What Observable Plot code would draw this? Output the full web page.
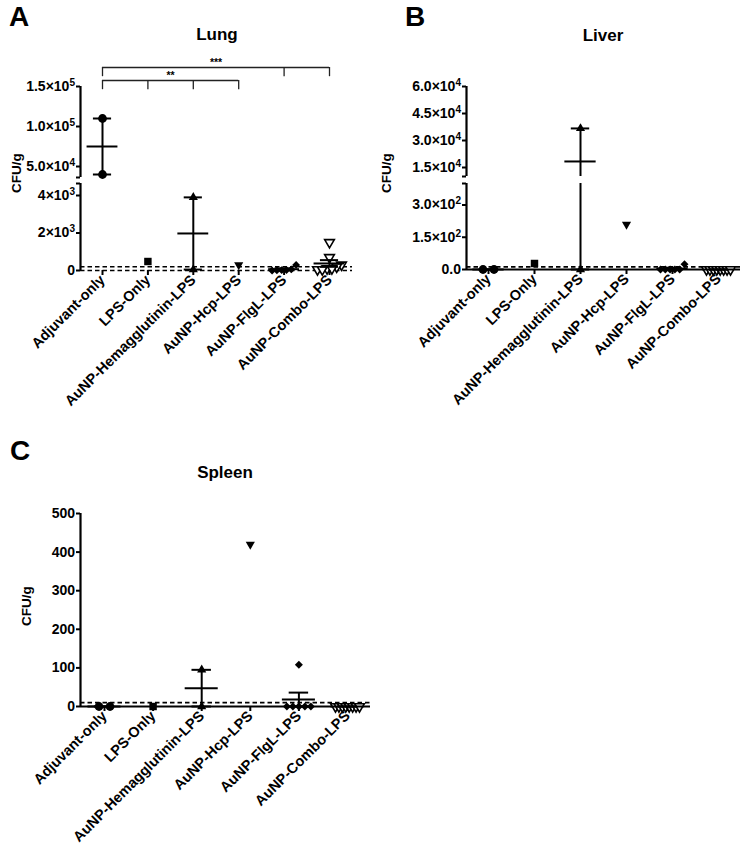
<!DOCTYPE html>
<html><head><meta charset="utf-8">
<script src="https://cdn.jsdelivr.net/npm/d3@7"></script>
<script src="https://cdn.jsdelivr.net/npm/@observablehq/plot@0.6"></script>
<style>
body{margin:0;background:#fff;}
#fig{position:relative;width:742px;height:847px;overflow:hidden;background:#fff;}
#fig svg{position:absolute;}
</style></head><body><div id="fig"></div>
<script>
// ---------------- data ----------------
const groups = ["Adjuvant-only","LPS-Only","AuNP-Hemagglutinin-LPS","AuNP-Hcp-LPS","AuNP-FlgL-LPS","AuNP-Combo-LPS"];

const lungValues = [[110000,40000],[480],[3900,50],[300],[300,60,30,20,10,0],[1500,700,300,200,100,100,50,50]];
const liverValues = [[0,0],[28],[36700,0],[210],[25,0,0,0,0,0],[0,0,0,0,0,0,0,0]];
const spleenValues = [[0,0],[0],[95,0],[420],[108,0,0,0,0,0],[0,0,0,0,0,0,0,0]];

const lungUpperTicks = [50000,100000,150000];
const lungUpperLabels = ["5.0×10^4","1.0×10^5","1.5×10^5"];
const lungLowerTicks = [0,2000,4000];
const lungLowerLabels = ["0","2×10^3","4×10^3"];
const liverUpperTicks = [15000,30000,45000,60000];
const liverUpperLabels = ["1.5×10^4","3.0×10^4","4.5×10^4","6.0×10^4"];
const liverLowerTicks = [0,150,300];
const liverLowerLabels = ["0.0","1.5×10^2","3.0×10^2"];
const spleenTicks = [0,100,200,300,400,500];
const spleenLabels = ["0","100","200","300","400","500"];

const lungLimits = [0,200];
const liverLimits = [12];
const spleenLimits = [10];

const lungBrackets = [
  {from:0,to:5,drops:[0,4,5],level:173750,label:"***"},
  {from:0,to:3,drops:[0,1,2,3],level:157500,label:"**"}
];

// ---------------- styling ----------------
const sqrt3 = Math.sqrt(3);
const triangleDown = {draw(ctx,size){const y=-Math.sqrt(size/(sqrt3*3));ctx.moveTo(0,-y*2);ctx.lineTo(-sqrt3*y,y);ctx.lineTo(sqrt3*y,y);ctx.closePath();}};
const markers = [
  {symbol:"circle",r:4.4,fill:"black",sw:0},
  {symbol:"square",r:4.2,fill:"black",sw:0},
  {symbol:"triangle",r:3.4,fill:"black",sw:0},
  {symbol:triangleDown,r:3.4,fill:"black",sw:0},
  {symbol:"diamond2",r:3.6,fill:"black",sw:0},
  {symbol:triangleDown,r:3.6,fill:"white",sw:1.6}
];
const FONT = "'Liberation Sans', Arial, Helvetica, sans-serif";
const fig = document.getElementById("fig");

function spread(vals, px, stepPx){
  const order = d3.range(vals.length).sort((a,b)=>vals[a]-vals[b]);
  const off = new Array(vals.length).fill(0);
  const clusters = [];
  for (const i of order){
    const c = clusters[clusters.length-1];
    if (c && Math.abs(px(vals[c[0]]) - px(vals[i])) < 7) c.push(i); else clusters.push([i]);
  }
  for (const c of clusters){
    const k = c.length; if (k<2) continue;
    const sp = k===2 ? 11 : Math.min(7, 24/(k-1));
    c.forEach((i,j)=> off[i] = (j-(k-1)/2)*sp/stepPx);
  }
  return off;
}

function segPx(segs){
  return v => { const s = segs.find(s=>v>=s.domain[0] && v<=s.domain[1]) || segs[segs.length-1];
    return d3.scaleLinear(s.domain,[s.frame[1],s.frame[0]])(v); };
}

function supers(svg){
  d3.select(svg).selectAll('g[aria-label="y-axis tick label"] text').each(function(){
    const t = this.textContent; const m = t.match(/^(.*)\^(\d+)$/);
    if (m){ const s=d3.select(this); s.text(null); s.append("tspan").text(m[1]);
      s.append("tspan").attr("dy","-0.5em").attr("font-size","0.72em").text(m[2]); }
  });
}

function makeChart(o){
  const step = (o.cat5 - o.cat0)/5;
  const xDomain = [-(o.cat0 - o.axisX)/step, 5 + (o.right - o.cat5)/step];
  const [y0,y1] = o.yDomain;
  const inside = v => v >= y0 - 1e-9 && v <= y1;
  const pts = [];
  o.values.forEach((vals,i)=>{ const off = spread(vals,o.px,step); vals.forEach((v,j)=>pts.push({i,v,x:i+off[j]})); });
  const stats = o.values.map((vals,i)=>({i,n:vals.length,mean:d3.mean(vals),
      sem: vals.length>1 ? d3.deviation(vals)/Math.sqrt(vals.length) : 0})).filter(d=>d.n>1);
  const caps = stats.flatMap(d=>[{i:d.i,y:d.mean+d.sem},{i:d.i,y:d.mean-d.sem}]);
  const labelMap = new Map(o.ticks.map((t,i)=>[t,o.labels[i]]));
  const allTicks = o.ticks.concat(o.endCaps || []);
  const marks = [];
  if (o.limits) marks.push(Plot.ruleY(o.limits.filter(inside), {strokeDasharray:"4.5,3", strokeWidth:1.6}));
  if (o.baseline) marks.push(Plot.ruleY([0], {strokeWidth:2.2}));
  marks.push(Plot.ruleX([xDomain[0]], {strokeWidth:2.2}));
  marks.push(Plot.axisY(allTicks, {tickFormat: d => labelMap.get(d) ?? "", tickSize:4, tickPadding:1.5, strokeWidth:2, fontSize:14, fontWeight:"bold"}));
  markers.forEach((m,i)=> marks.push(Plot.dot(pts.filter(p=>p.i===i && inside(p.v)),
      {x:"x", y:"v", symbol:m.symbol, r:m.r, fill:m.fill, stroke:"black", strokeWidth:m.sw})));
  marks.push(Plot.ruleX(stats, {x:"i", y1:d=>d.mean-d.sem, y2:d=>d.mean+d.sem, strokeWidth:2, clip:true}));
  marks.push(Plot.ruleY(stats.filter(d=>inside(d.mean)), {y:"mean", x1:d=>d.i-0.34, x2:d=>d.i+0.34, strokeWidth:2}));
  marks.push(Plot.ruleY(caps.filter(d=>inside(d.y)), {y:"y", x1:d=>d.i-0.2, x2:d=>d.i+0.2, strokeWidth:2}));
  if (o.showX) marks.push(Plot.axisX(d3.range(6), {tickFormat:i=>groups[i], tickRotate:-45, tickSize:5, tickPadding:2, strokeWidth:2, fontSize:14.5, fontWeight:"bold"}));
  if (o.brackets){
    const b = o.brackets;
    marks.push(Plot.ruleY(b, {y:"level", x1:"from", x2:"to", strokeWidth:1.3, stroke:"#222"}));
    marks.push(Plot.ruleX(b.flatMap(d=>d.drops.map(x=>({x, level:d.level}))), {x:"x", y1:"level", y2:d=>d.level-11500, strokeWidth:1.3, stroke:"#222"}));
    marks.push(Plot.text(b, {x:d=>(d.from+d.to)/2, y:"level", text:"label", dy:-5, fontSize:10.5, fontWeight:"bold"}));
  }
  const svg = Plot.plot({
    width:o.width, height:o.height,
    marginLeft:o.axisX-o.left, marginRight:o.left+o.width-o.right,
    marginTop:o.frameTop-o.top, marginBottom:o.top+o.height-o.frameBottom,
    x:{domain:xDomain, axis: o.showX ? undefined : null},
    y:{domain:o.yDomain},
    style:{background:"transparent", overflow:"visible", fontFamily:FONT, fontWeight:"bold", fontSize:"14px", color:"black"},
    marks
  });
  supers(svg);
  svg.style.left = o.left+"px"; svg.style.top = o.top+"px";
  fig.appendChild(svg);
}

// ---------------- Panel A: Lung ----------------
const lungSegs = [{domain:[0,4640],frame:[183,270]},{domain:[36250,150000],frame:[86,177]}];
const lungBase = {values:lungValues, axisX:80, right:352, cat0:102, cat5:329, px:segPx(lungSegs), limits:lungLimits};
makeChart({...lungBase, left:0, top:0, width:370, height:180, frameTop:86, frameBottom:177,
  yDomain:[36250,150000], ticks:lungUpperTicks, labels:lungUpperLabels, endCaps:[36250], brackets:lungBrackets});
makeChart({...lungBase, left:0, top:180, width:370, height:240, frameTop:183, frameBottom:270,
  yDomain:[0,4640], ticks:lungLowerTicks, labels:lungLowerLabels, endCaps:[4640], showX:true});

// ---------------- Panel B: Liver ----------------
const liverSegs = [{domain:[0,400],frame:[183,269]},{domain:[10000,60000],frame:[86,176]}];
const liverBase = {values:liverValues, axisX:466, right:740, cat0:488, cat5:718, px:segPx(liverSegs), limits:liverLimits};
makeChart({...liverBase, left:370, top:0, width:372, height:179, frameTop:86, frameBottom:176,
  yDomain:[10000,60000], ticks:liverUpperTicks, labels:liverUpperLabels, endCaps:[10000]});
makeChart({...liverBase, left:370, top:179, width:372, height:240, frameTop:183, frameBottom:269,
  yDomain:[0,400], ticks:liverLowerTicks, labels:liverLowerLabels, endCaps:[400], showX:true, baseline:true});

// ---------------- Panel C: Spleen ----------------
const spleenSegs = [{domain:[0,500],frame:[513,706]}];
makeChart({values:spleenValues, axisX:80, right:370, cat0:104, cat5:347, px:segPx(spleenSegs), limits:spleenLimits,
  left:0, top:490, width:372, height:357, frameTop:513, frameBottom:706,
  yDomain:[0,500], ticks:spleenTicks, labels:spleenLabels, showX:true, baseline:true});

// ---------------- text overlay ----------------
const ov = d3.select(fig).append("svg").attr("width",742).attr("height",847)
  .style("left","0px").style("top","0px")
  .attr("font-family",FONT).attr("font-weight","bold");
const letters = [["A",9,26],["B",405,26],["C",10,460]];
ov.selectAll("text.l").data(letters).join("text").attr("class","l")
  .attr("x",d=>d[1]).attr("y",d=>d[2]).attr("font-size",28).text(d=>d[0]);
const titles = [["Lung",217,40],["Liver",603,41],["Spleen",225,478]];
ov.selectAll("text.t").data(titles).join("text").attr("class","t")
  .attr("x",d=>d[1]).attr("y",d=>d[2]).attr("text-anchor","middle").attr("font-size",17).text(d=>d[0]);
const ylabs = [[16,173],[386,173],[26,606]];
ov.selectAll("text.y").data(ylabs).join("text").attr("class","y")
  .attr("transform",d=>`translate(${d[0]},${d[1]}) rotate(-90)`).attr("text-anchor","middle")
  .attr("dy","0.35em").attr("font-size",13.5).text("CFU/g");
</script></body></html>
